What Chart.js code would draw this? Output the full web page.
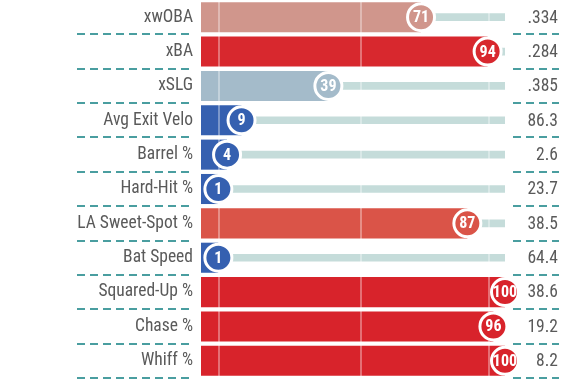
<!DOCTYPE html>
<html>
<head>
<meta charset="utf-8">
<script src="https://cdn.jsdelivr.net/npm/chart.js@4.4.1/dist/chart.umd.min.js"></script>
<style>
  html, body { margin: 0; padding: 0; background: #ffffff; }
  #wrap { width: 579px; height: 381px; position: relative; }
</style>
</head>
<body>
<div id="wrap"><canvas id="c"></canvas></div>
<script>
// ---- data ----
const CATEGORIES = ['xwOBA', 'xBA', 'xSLG', 'Avg Exit Velo', 'Barrel %', 'Hard-Hit %',
  'LA Sweet-Spot %', 'Bat Speed', 'Squared-Up %', 'Chase %', 'Whiff %'];
const PERCENTILES = [71, 94, 39, 9, 4, 1, 87, 1, 100, 96, 100];
const STAT_VALUES = ['.334', '.284', '.385', '86.3', '2.6', '23.7', '38.5', '64.4', '38.6', '19.2', '8.2'];
const BAR_COLORS = ['#d0968c', '#d8282e', '#a4bbca', '#3560b0', '#3560b0', '#3560b0',
  '#da5448', '#3560b0', '#d8232b', '#d8232b', '#d8232b'];
const AXIS_MIN = -5;
const AXIS_MAX = 100;
const GRID_VALUES = [1.2, 50.3, 94.5];

const FONT = "'Roboto Condensed', 'Liberation Sans Narrow', 'DejaVu Sans Condensed', Roboto, sans-serif";
const TEXT_COLOR = '#5a5a5a';
const DASH_COLOR = '#4a9ea0';

const overlay = {
  id: 'overlay',
  afterDatasetDraw(chart, args) {
    if (args.index !== 1) return;
    const ctx = chart.ctx, x = chart.scales.x, area = chart.chartArea;
    ctx.save();
    ctx.strokeStyle = 'rgba(255,255,255,0.35)';
    ctx.lineWidth = 2;
    GRID_VALUES.forEach(v => {
      const px = Math.round(x.getPixelForValue(v));
      ctx.beginPath();
      ctx.moveTo(px, area.top);
      ctx.lineTo(px, area.bottom);
      ctx.stroke();
    });
    ctx.restore();
  },
  afterDatasetsDraw(chart) {
    const ctx = chart.ctx, x = chart.scales.x, y = chart.scales.y;
    ctx.save();
    ctx.fillStyle = '#ffffff';
    ctx.textAlign = 'center';
    ctx.textBaseline = 'middle';
    ctx.font = "bold 16px " + FONT;
    PERCENTILES.forEach((v, i) => {
      ctx.fillText(String(v), x.getPixelForValue(v), y.getPixelForValue(i) + 1);
    });
    ctx.restore();
  },
  afterDraw(chart) {
    const ctx = chart.ctx, y = chart.scales.y, area = chart.chartArea;
    ctx.save();
    // right value labels
    ctx.fillStyle = TEXT_COLOR;
    ctx.font = "17.5px " + FONT;
    ctx.textAlign = 'right';
    ctx.textBaseline = 'middle';
    STAT_VALUES.forEach((s, i) => {
      ctx.fillText(s, 558, y.getPixelForValue(i) + 1);
    });
    // dashed separators
    ctx.strokeStyle = DASH_COLOR;
    ctx.lineWidth = 2;
    ctx.setLineDash([8, 5]);
    const step = (area.bottom - area.top) / CATEGORIES.length;
    for (let i = 1; i <= CATEGORIES.length; i++) {
      const py = Math.round(area.top + step * i);
      ctx.beginPath();
      ctx.moveTo(77, py); ctx.lineTo(194, py);
      ctx.stroke();
      ctx.beginPath();
      ctx.moveTo(513, py); ctx.lineTo(559, py);
      ctx.stroke();
    }
    ctx.restore();
  }
};

new Chart(document.getElementById('c'), {
  type: 'bar',
  data: {
    labels: CATEGORIES,
    datasets: [
      {
        type: 'line',
        data: PERCENTILES.map((v, i) => ({ x: v, y: CATEGORIES[i] })),
        showLine: false,
        pointRadius: 13.5,
        pointHoverRadius: 13.5,
        pointBackgroundColor: BAR_COLORS,
        pointBorderColor: '#ffffff',
        pointBorderWidth: 3,
        clip: false,
        order: 0
      },
      {
        data: PERCENTILES.map(v => [AXIS_MIN, v]),
        backgroundColor: BAR_COLORS,
        categoryPercentage: 1,
        barPercentage: 0.875,
        grouped: false,
        order: 1
      },
      {
        data: PERCENTILES.map(() => [0, AXIS_MAX]),
        backgroundColor: '#c5dcda',
        barThickness: 7,
        grouped: false,
        order: 2
      }
    ]
  },
  options: {
    indexAxis: 'y',
    responsive: true,
    maintainAspectRatio: false,
    animation: false,
    events: [],
    layout: { autoPadding: false, padding: { top: 0, bottom: 3, left: 0, right: 74 } },
    plugins: { legend: { display: false }, tooltip: { enabled: false } },
    scales: {
      x: { type: 'linear', min: AXIS_MIN, max: AXIS_MAX, display: false },
      y: {
        grid: { display: false, drawTicks: false },
        border: { display: false },
        afterFit(scale) {
          scale.width = 201;
          scale.paddingTop = 0;
          scale.paddingBottom = 0;
        },
        ticks: { padding: 8, color: TEXT_COLOR, font: { family: FONT, size: 17.5 } }
      }
    }
  },
  plugins: [overlay]
});
</script>
</body>
</html>
